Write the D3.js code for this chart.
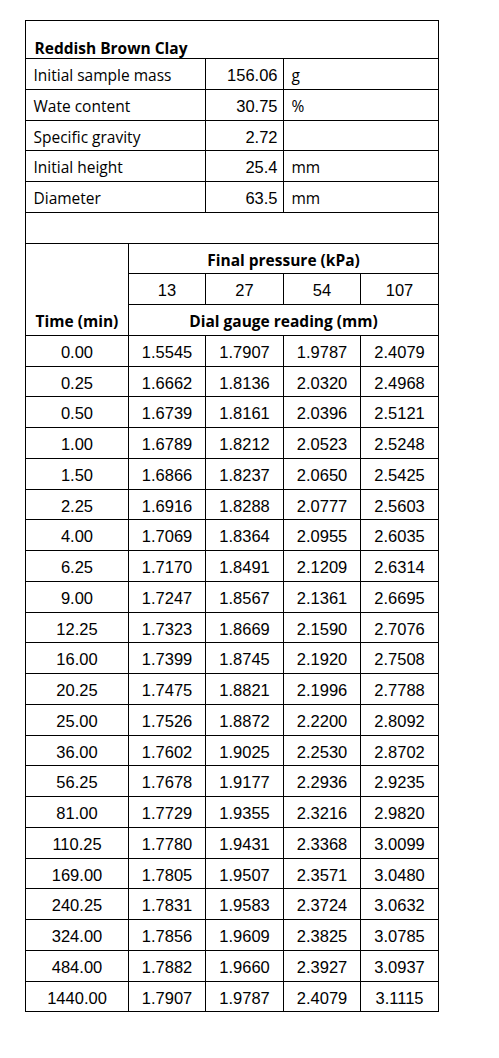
<!DOCTYPE html><html><head><meta charset="utf-8">
<script src="https://cdn.jsdelivr.net/npm/d3@7"></script>
<style>body{margin:0;background:#fff}</style></head><body><svg id="c" width="499" height="1058"></svg>
<script>
const title="Reddish Brown Clay";
const infoLabels=["Initial sample mass","Wate content","Specific gravity","Initial height","Diameter"];
const infoValues=["156.06","30.75","2.72","25.4","63.5"];
const infoUnits=["g","%","","mm","mm"];
const pressures=["13","27","54","107"];
const times=["0.00","0.25","0.50","1.00","1.50","2.25","4.00","6.25","9.00","12.25","16.00","20.25","25.00","36.00","56.25","81.00","110.25","169.00","240.25","324.00","484.00","1440.00"];
const p13=["1.5545","1.6662","1.6739","1.6789","1.6866","1.6916","1.7069","1.7170","1.7247","1.7323","1.7399","1.7475","1.7526","1.7602","1.7678","1.7729","1.7780","1.7805","1.7831","1.7856","1.7882","1.7907"];
const p27=["1.7907","1.8136","1.8161","1.8212","1.8237","1.8288","1.8364","1.8491","1.8567","1.8669","1.8745","1.8821","1.8872","1.9025","1.9177","1.9355","1.9431","1.9507","1.9583","1.9609","1.9660","1.9787"];
const p54=["1.9787","2.0320","2.0396","2.0523","2.0650","2.0777","2.0955","2.1209","2.1361","2.1590","2.1920","2.1996","2.2200","2.2530","2.2936","2.3216","2.3368","2.3571","2.3724","2.3825","2.3927","2.4079"];
const p107=["2.4079","2.4968","2.5121","2.5248","2.5425","2.5603","2.6035","2.6314","2.6695","2.7076","2.7508","2.7788","2.8092","2.8702","2.9235","2.9820","3.0099","3.0480","3.0632","3.0785","3.0937","3.1115"];
const series=[p13,p27,p54,p107];

const svg=d3.select("#c");
const X=[25.5,128.5,205.5,283.5,360.5,438.5];
const L=25.5,R=438.5,T=20.5,TB=58,RH=30.75;
const rowY=i=>Math.round(TB+i*RH)+0.5;
const nRows=5+1+3+times.length;
const B=rowY(nRows);
const lab="'Open Sans','Noto Sans',sans-serif", num="'Liberation Sans',Arial,sans-serif";
const g=svg.append("g").attr("stroke","#000").attr("stroke-width",1);
const line=(x1,y1,x2,y2)=>g.append("line").attr("x1",x1).attr("y1",y1).attr("x2",x2).attr("y2",y2);
g.append("rect").attr("x",L).attr("y",T).attr("width",R-L).attr("height",B-T).attr("fill","none");
for(let i=0;i<=nRows;i++){
  if(i===7||i===8) line(X[1],rowY(i),R,rowY(i)); else line(L,rowY(i),R,rowY(i));
}
line(X[2],rowY(0),X[2],rowY(5)); line(X[3],rowY(0),X[3],rowY(5));
line(X[1],rowY(6),X[1],B);
[2,3,4].forEach(k=>line(X[k],rowY(7),X[k],rowY(8)));
[2,3,4].forEach(k=>line(X[k],rowY(9),X[k],B));
const t=(x,y,s,opt={})=>svg.append("text").attr("x",x).attr("y",y).text(s)
  .attr("font-family",opt.f||num).attr("font-size",opt.s||16.5).attr("font-weight",opt.b?"bold":"normal")
  .attr("text-anchor",opt.a||"start").attr("fill","#000");
t(L+9,T+33,title,{f:lab,b:1,s:15.5});
infoLabels.forEach((d,i)=>{
  const y=rowY(i)+22;
  t(L+8,y,d,{f:lab,s:15.5});
  t(X[3]-6,y,infoValues[i],{a:"end"});
  if(infoUnits[i]) t(X[3]+8,y,infoUnits[i],{f:lab,s:15.5});
});
t((X[1]+R)/2,rowY(6)+22,"Final pressure (kPa)",{f:lab,b:1,a:"middle",s:15.5});
pressures.forEach((p,k)=>t((X[k+1]+X[k+2])/2,rowY(7)+22,p,{a:"middle"}));
t((X[0]+X[1])/2,rowY(8)+22,"Time (min)",{f:lab,b:1,a:"middle",s:15.5});
t((X[1]+R)/2,rowY(8)+22,"Dial gauge reading (mm)",{f:lab,b:1,a:"middle",s:15.5});
times.forEach((tm,i)=>{
  const y=rowY(9+i)+22;
  t((X[0]+X[1])/2,y,tm,{a:"middle"});
  series.forEach((s,k)=>t((X[k+1]+X[k+2])/2,y,s[i],{a:"middle"}));
});
</script></body></html>
